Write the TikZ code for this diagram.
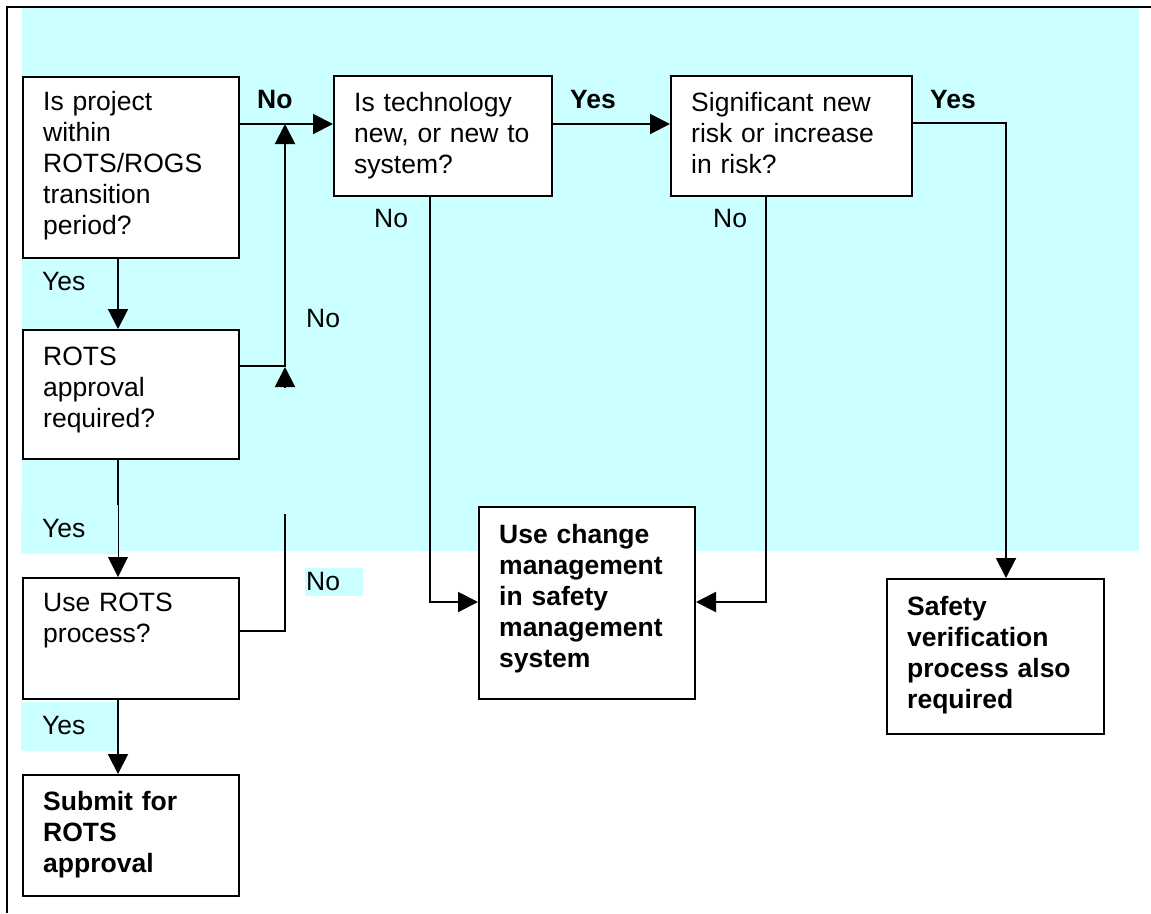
\documentclass[tikz,border=0pt]{standalone}
\usepackage{fontspec}
\setmainfont{Liberation Sans}
\usetikzlibrary{arrows.meta,calc}
\definecolor{cyanbg}{HTML}{CCFFFF}
\begin{document}
\begin{tikzpicture}[x=1pt,y=-1pt,
  box/.style={draw=black, line width=2pt, fill=white, inner sep=0pt, anchor=north west},
  txt/.style={inner sep=0pt, anchor=base west, align=left, text width=260pt, font=\fontsize{26.5}{31}\selectfont},
  btxt/.style={txt, font=\fontsize{26.5}{31}\selectfont\bfseries},
  lbl/.style={inner sep=0pt, anchor=base west, font=\fontsize{26.5}{31}\selectfont},
  blbl/.style={lbl, font=\fontsize{26.5}{31}\selectfont\bfseries},
  conn/.style={draw=black, line width=2pt},
  arr/.style={conn, -{Triangle[length=20pt,width=20pt]}}]
\useasboundingbox (0,0) rectangle (1151,913);
% backgrounds
\fill[cyanbg] (22,8) rectangle (1139,551);
\fill[cyanbg] (21,506) rectangle (118,554);
\fill[cyanbg] (305,568) rectangle (363,596);
\fill[cyanbg] (21,702) rectangle (118,751);
% frame
\draw[line width=2.5pt] (7,913) -- (7,7) -- (1151,7);
% boxes
\node[box, minimum width=216pt, minimum height=181pt] (b1) at (22,76) {};
\node[box, minimum width=218pt, minimum height=120pt] (b2) at (333,75) {};
\node[box, minimum width=241pt, minimum height=120pt] (b3) at (670,75) {};
\node[box, minimum width=216pt, minimum height=129pt] (b4) at (22,329) {};
\node[box, minimum width=216pt, minimum height=121pt] (b5) at (22,577) {};
\node[box, minimum width=216pt, minimum height=121pt] (b6) at (22,774) {};
\node[box, minimum width=216pt, minimum height=192pt] (b7) at (478,506) {};
\node[box, minimum width=217pt, minimum height=155pt] (b8) at (886,578) {};
% box texts
\node[txt] (t1) at (43,110) {Is project\\within\\ROTS/ROGS\\transition\\period?};
\node[txt] (t2) at (354,111) {Is technology\\new, or new to\\system?};
\node[txt] (t3) at (691,111) {Significant new\\risk or increase\\in risk?};
\node[txt] (t4) at (43,365) {ROTS\\approval\\required?};
\node[txt] (t5) at (43,611) {Use ROTS\\process?};
\node[btxt] (t6) at (43,810) {Submit for\\ROTS\\approval};
\node[btxt] (t7) at (499,543) {Use change\\management\\in safety\\management\\system};
\node[btxt] (t8) at (907,615) {Safety\\verification\\process also\\required};
% connectors
\coordinate (j1) at (285,124);
\coordinate (j2) at (285,514);
\coordinate (j3) at (285,388);
\coordinate (j4) at (285,367);
\coordinate (k1) at (118,505);
\draw[arr] (b1.east |- j1) -- (b2.west |- j1);
\draw[arr] (b2.east |- j1) -- (b3.west |- j1);
\draw[arr] (b3.east |- 0,123) -| (b8.north -| 1006,0);
\draw[arr] (b1.south -| k1) -- (b4.north -| k1);
\draw[conn] (b4.south -| k1) -- (k1);
\draw[arr, line width=1pt] (k1) -- (b5.north -| k1);
\draw[arr] (b5.south -| k1) -- (b6.north -| k1);
\draw[arr] (b4.east |- 0,366) -| (j1);
\draw[conn] (b5.east |- 0,631) -| (j2);
\draw[arr] (j3) -- (j4);
\draw[arr] (b2.south -| 430,0) |- (b7.west |- 0,602);
\draw[arr] (b3.south -| 766,0) |- (b7.east |- 0,602);
% labels
\node[blbl] (l1) at (257,108) {No};
\node[blbl] (l2) at (570,108) {Yes};
\node[blbl] (l3) at (930,108) {Yes};
\node[lbl] (l4) at (374,227) {No};
\node[lbl] (l5) at (713,227) {No};
\node[lbl] (l6) at (42,290) {Yes};
\node[lbl] (l7) at (306,327) {No};
\node[lbl] (l8) at (42,537) {Yes};
\node[lbl] (l9) at (306,590) {No};
\node[lbl] (l10) at (42,734) {Yes};
\end{tikzpicture}
\end{document}
